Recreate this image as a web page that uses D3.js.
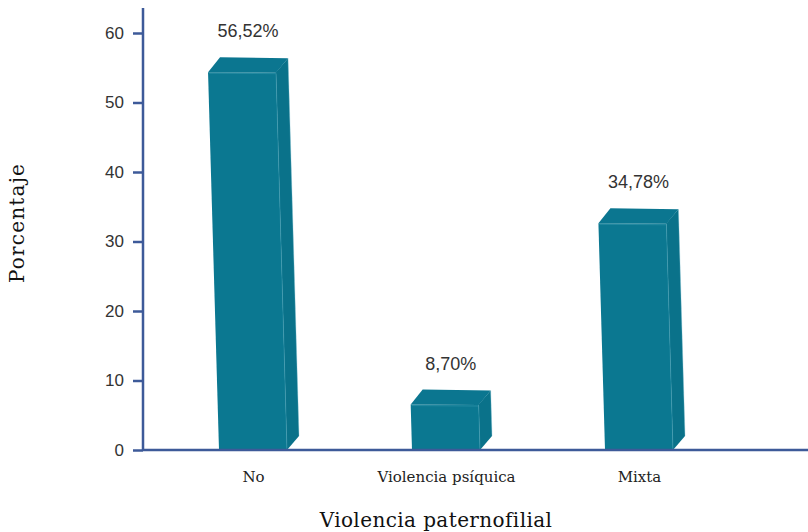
<!DOCTYPE html>
<html>
<head>
<meta charset="utf-8">
<script src="https://cdn.jsdelivr.net/npm/d3@7"></script>
<style>
  html, body { margin: 0; padding: 0; background: #ffffff; }
  svg { display: block; }
</style>
</head>
<body>
<svg id="chart" width="808" height="532"></svg>
<script>
// Categories and values (percent)
const categories = ["No", "Violencia psíquica", "Mixta"];
const values = [56.52, 8.70, 34.78];
const yTicks = [0, 10, 20, 30, 40, 50, 60];
const xTitle = "Violencia paternofilial";
const yTitle = "Porcentaje";

const W = 808, H = 532;
const axisX = 143, baseY = 450, axisTop = 8, axisRight = 808;
const axisColor = "#3d5a99";

const svg = d3.select("#chart");

const y = d3.scaleLinear().domain([0, 60]).range([baseY, 33]);
const x = d3.scalePoint().domain(categories).range([253, 639]);

const esFormat = d3.formatLocale({ decimal: ",", thousands: ".", grouping: [3], currency: ["", " €"] });
const fmt = v => esFormat.format(".2f")(v) + "%";

// Box geometry
const barW = 68, depthX = 12, depthY = 15, lean = 0.029;

const data = categories.map((c, i) => ({ c, v: values[i] }));

const bars = svg.append("g").attr("class", "bars");
data.forEach(d => {
  const bl = x(d.c) - barW / 2;        // bottom-left of front face
  const yv = y(d.v);                    // back top edge
  const ft = yv + depthY;               // front top edge
  const shift = lean * (baseY - ft);    // leaning of the box
  const tl = bl - shift, tr = tl + barW;
  const g = bars.append("g");
  const line = d3.line();

  // side face
  g.append("path")
    .attr("d", line([[tr, ft], [tr + depthX, yv + 1], [bl + barW + depthX, baseY - depthY + 1], [bl + barW, baseY]]) + "Z")
    .attr("fill", "#0a728a");
  // top face
  g.append("path")
    .attr("d", line([[tl, ft], [tl + depthX, yv], [tr + depthX, yv + 1], [tr, ft + 0.5]]) + "Z")
    .attr("fill", "#0b7690");
  // front face
  g.append("path")
    .attr("d", line([[tl, ft], [tr, ft + 0.5], [bl + barW, baseY], [bl, baseY]]) + "Z")
    .attr("fill", "#0b7891");
  // light edges of the front face
  g.append("path")
    .attr("d", line([[tl + 1, ft + 1], [tr, ft + 1.5], [bl + barW, baseY]]))
    .attr("fill", "none")
    .attr("stroke", "#3f9db3")
    .attr("stroke-opacity", 0.5)
    .attr("stroke-width", 1);
  // light back-right edge
  g.append("path")
    .attr("d", line([[tr + depthX, yv + 1], [bl + barW + depthX, baseY - depthY + 1]]))
    .attr("fill", "none")
    .attr("stroke", "#7fc0d0")
    .attr("stroke-opacity", 0.35)
    .attr("stroke-width", 1);

  // value label
  svg.append("text")
    .attr("x", tl + (barW + depthX) / 2)
    .attr("y", yv - 20)
    .attr("text-anchor", "middle")
    .attr("font-family", "'Liberation Sans', Arial, sans-serif")
    .attr("font-size", 18)
    .attr("fill", "#333")
    .text(fmt(d.v));
});

// Y axis
const yAxis = d3.axisLeft(y).tickValues(yTicks).tickSize(10).tickPadding(9).tickSizeOuter(0);
const gy = svg.append("g").attr("transform", `translate(${axisX},0)`).call(yAxis);
gy.select(".domain").remove();
gy.selectAll(".tick line").attr("stroke", axisColor).attr("stroke-width", 2.5);
gy.selectAll(".tick text")
  .attr("font-family", "'Liberation Sans', Arial, sans-serif")
  .attr("font-size", 17)
  .attr("fill", "#333");
svg.append("line")
  .attr("x1", axisX).attr("x2", axisX)
  .attr("y1", axisTop).attr("y2", baseY + 1)
  .attr("stroke", axisColor).attr("stroke-width", 2.5);

// X axis
svg.append("line")
  .attr("x1", axisX).attr("x2", axisRight)
  .attr("y1", baseY).attr("y2", baseY)
  .attr("stroke", axisColor).attr("stroke-width", 2.5);
const xAxis = d3.axisBottom(x).tickSize(0).tickPadding(0);
const gx = svg.append("g").attr("transform", `translate(0,${baseY})`).call(xAxis);
gx.select(".domain").remove();
gx.selectAll(".tick text")
  .attr("dy", null)
  .attr("y", 32)
  .attr("font-family", "'DejaVu Serif', serif")
  .attr("font-size", 15)
  .attr("fill", "#222");

// Axis titles
svg.append("text")
  .attr("x", 436).attr("y", 527)
  .attr("text-anchor", "middle")
  .attr("font-family", "'DejaVu Serif', serif")
  .attr("font-size", 20)
  .attr("letter-spacing", 0.4)
  .attr("fill", "#111")
  .text(xTitle);

svg.append("text")
  .attr("transform", "translate(24,223) rotate(-90)")
  .attr("text-anchor", "middle")
  .attr("font-family", "'DejaVu Serif', serif")
  .attr("font-size", 20)
  .attr("letter-spacing", 1.2)
  .attr("fill", "#111")
  .text(yTitle);
</script>
</body>
</html>
